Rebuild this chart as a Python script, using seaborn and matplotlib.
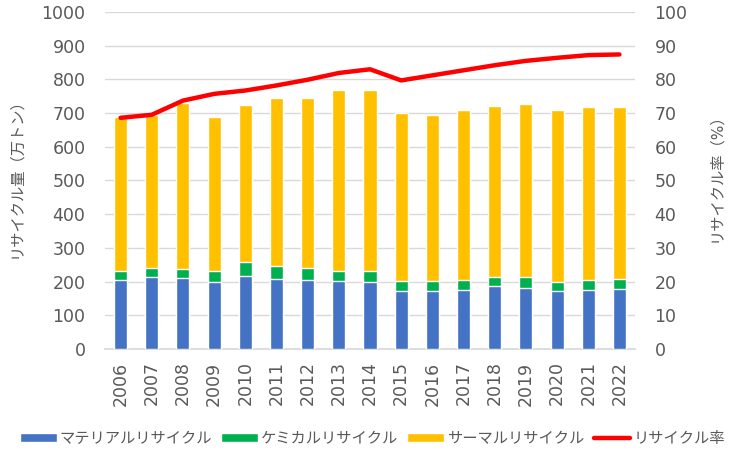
import numpy as np
import pandas as pd
import matplotlib
matplotlib.use("Agg")
import matplotlib.pyplot as plt
import seaborn as sns
from matplotlib.patches import Patch
from matplotlib.lines import Line2D

years = [str(y) for y in range(2006, 2023)]
material = [204, 214, 212, 198, 217, 209, 204, 201, 198, 171, 171, 175, 187, 182, 171, 175, 178]
chemical = [27, 26, 25, 33, 40, 36, 36, 30, 33, 30, 30, 29, 27, 32, 27, 29, 29]
thermal = [457, 454, 493, 457, 466, 499, 504, 537, 537, 498, 493, 505, 506, 512, 511, 513, 510]
rate = [68.6, 69.5, 73.7, 75.7, 76.7, 78.2, 79.9, 81.9, 83.0, 79.7, 81.2, 82.7, 84.2, 85.5, 86.4, 87.2, 87.4]

labels = ["マテリアルリサイクル", "ケミカルリサイクル", "サーマルリサイクル", "リサイクル率"]
colors = ["#4472C4", "#00B050", "#FFC000", "#FF0000"]

sns.set_theme(style="white")
plt.rcParams['font.family'] = ['DejaVu Sans', 'Noto Sans CJK JP']
grey = "#595959"

df = pd.DataFrame({"year": years, "material": material, "chemical": chemical,
                   "thermal": thermal, "rate": rate})
df["mc"] = df["material"] + df["chemical"]
df["total"] = df["mc"] + df["thermal"]

fig = plt.figure(figsize=(7.3, 4.51), dpi=100)
ax = fig.add_axes([0.1438, 0.2262, 0.7261, 0.7472])

bw = 0.42
sns.barplot(data=df, x="year", y="total", color=colors[2], saturation=1, width=bw, ax=ax, zorder=2)
sns.barplot(data=df, x="year", y="mc", color=colors[1], saturation=1, width=bw, ax=ax, zorder=3)
sns.barplot(data=df, x="year", y="material", color=colors[0], saturation=1, width=bw, ax=ax, zorder=4)

ax.set_ylim(0, 1000)
ax.set_yticks(np.arange(0, 1001, 100))
ax.set_xlim(-0.5, len(years) - 0.5)
ax.yaxis.grid(True, color="#D9D9D9", linewidth=1)
ax.set_axisbelow(True)
for s in ["top", "right", "left"]:
    ax.spines[s].set_visible(False)
ax.spines["bottom"].set_color("#D9D9D9")
ax.tick_params(axis="y", colors=grey, labelsize=12.5, length=0, pad=14)
ax.tick_params(axis="x", colors=grey, labelsize=12.5, length=0, rotation=90, pad=9)
ax.set_xlabel("")
ax.set_ylabel("リサイクル量（万トン）", color=grey, fontsize=11)
ax.yaxis.set_label_coords(-0.155, 0.52)

ax2 = ax.twinx()
sns.lineplot(data=df, x="year", y="rate", color=colors[3], linewidth=3.2, ax=ax2, zorder=5)
ax2.set_ylim(0, 100)
ax2.set_yticks(np.arange(0, 101, 10))
for s in ["top", "right", "left", "bottom"]:
    ax2.spines[s].set_visible(False)
ax2.tick_params(axis="y", colors=grey, labelsize=12.5, length=0, pad=14)
ax2.set_ylabel("リサイクル率（%）", color=grey, fontsize=11)
ax2.yaxis.set_label_coords(1.138, 0.52)
ax2.set_xlabel("")
ax2.grid(False)

handles = [Patch(facecolor=colors[0]), Patch(facecolor=colors[1]), Patch(facecolor=colors[2]),
           Line2D([0], [0], color=colors[3], linewidth=3.2)]
leg = fig.legend(handles, labels, loc="center", bbox_to_anchor=(0.51, 0.028), ncol=4,
                 frameon=False, fontsize=11, handlelength=2.4, handleheight=0.6,
                 handletextpad=0.2, columnspacing=0.6)
for t in leg.get_texts():
    t.set_color(grey)

fig.savefig("out.png", dpi=100)
